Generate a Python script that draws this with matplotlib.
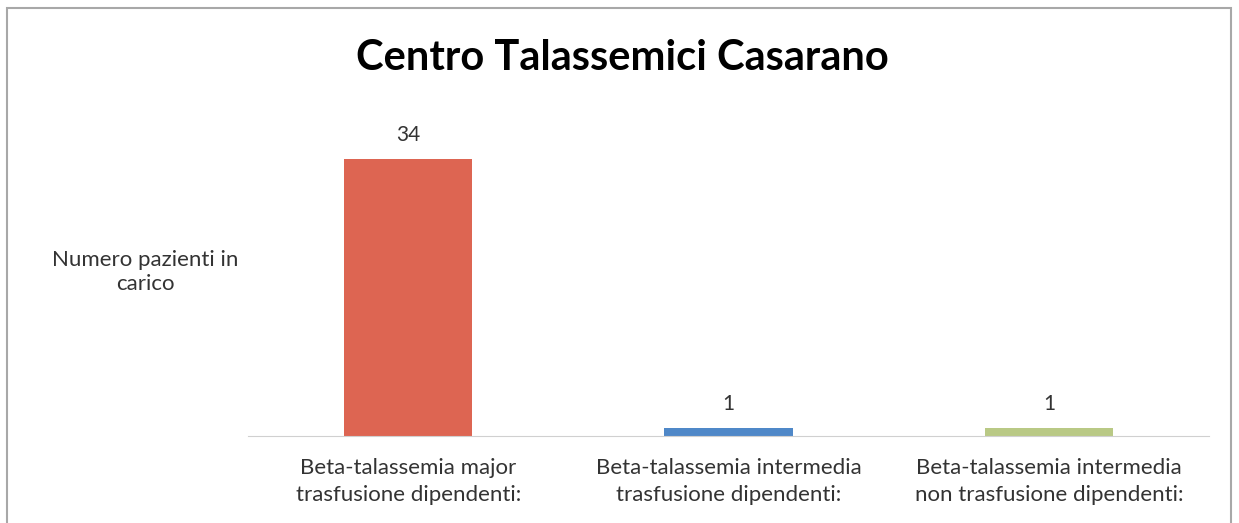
import matplotlib.pyplot as plt
from matplotlib.patches import Rectangle

# dati
categorie = ['Beta-talassemia major\ntrasfusione dipendenti:',
             'Beta-talassemia intermedia\ntrasfusione dipendenti:',
             'Beta-talassemia intermedia\nnon trasfusione dipendenti:']
pazienti = [34, 1, 1]
colori = ['#dd6552', '#4f88c8', '#b9c985']

plt.rcParams['font.family'] = ['Lato', 'DejaVu Sans']

fig = plt.figure(figsize=(12.39, 5.23), dpi=100)
ax = fig.add_axes([248/1239, 1 - 436/523, (1209-248)/1239, (436-110)/523])

x = range(len(categorie))
bars = ax.bar(x, pazienti, width=0.4, color=colori)
for b, v in zip(bars, pazienti):
    ax.text(b.get_x() + b.get_width()/2, v + 1.7, str(v), ha='center', va='bottom',
            fontsize=15, color='#333333')

ax.set_xlim(-0.5, 2.5)
ax.set_ylim(0, 40)
ax.set_xticks(list(x))
ax.set_xticklabels(categorie, fontsize=16, color='#333333', linespacing=1.4)
ax.tick_params(axis='x', length=0, pad=16)
ax.set_yticks([])
for s in ['top', 'right', 'left']:
    ax.spines[s].set_visible(False)
ax.spines['bottom'].set_color('#d0d0d0')

fig.text(145/1239, 1 - 272/523, 'Numero pazienti in\ncarico', ha='center', va='center',
         fontsize=16, color='#333333', linespacing=1.3)
fig.text(622/1239, 1 - 58/523, 'Centro Talassemici Casarano', ha='center', va='center',
         fontsize=30, fontweight='bold')

# cornice
fig.patches.append(Rectangle((7/1239, -0.05), (1231-7)/1239, 1.05 - 8/523,
                             transform=fig.transFigure, fill=False,
                             edgecolor='#a8a8a8', linewidth=1.5))

fig.savefig('out.png', dpi=100)
